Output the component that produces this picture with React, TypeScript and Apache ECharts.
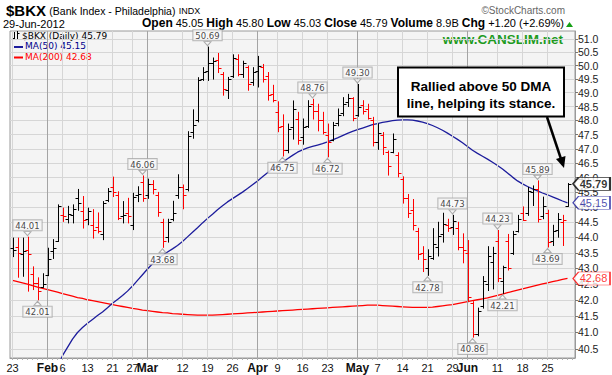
import React, { useEffect, useRef } from 'react';
import * as echarts from 'echarts';

const dates = [
  '01-23','01-24','01-25','01-26','01-27','01-30','01-31',
  '02-01','02-02','02-03','02-06','02-07','02-08','02-09','02-10','02-13','02-14','02-15','02-16','02-17','02-21','02-22','02-23','02-24','02-27','02-28','02-29',
  '03-01','03-02','03-05','03-06','03-07','03-08','03-09','03-12','03-13','03-14','03-15','03-16','03-19','03-20','03-21','03-22','03-23','03-26','03-27','03-28','03-29','03-30',
  '04-02','04-03','04-04','04-05','04-09','04-10','04-11','04-12','04-13','04-16','04-17','04-18','04-19','04-20','04-23','04-24','04-25','04-26','04-27','04-30',
  '05-01','05-02','05-03','05-04','05-07','05-08','05-09','05-10','05-11','05-14','05-15','05-16','05-17','05-18','05-21','05-22','05-23','05-24','05-25','05-29','05-30','05-31',
  '06-01','06-04','06-05','06-06','06-07','06-08','06-11','06-12','06-13','06-14','06-15','06-18','06-19','06-20','06-21','06-22','06-25','06-26','06-27','06-28','06-29'
];

const opens = [
  43.65,43.70,43.45,43.60,42.83,42.55,42.40,42.80,43.55,43.90,
  44.75,44.60,44.75,45.30,44.86,44.60,44.42,44.35,44.10,45.25,
  45.70,45.40,44.70,44.80,44.40,45.40,45.85,45.40,45.80,45.40,
  44.50,44.00,44.60,45.40,45.70,45.60,47.60,48.00,49.50,49.80,
  50.10,50.20,49.70,49.09,49.60,50.25,49.70,49.95,49.40,49.80,
  49.95,49.60,48.95,48.30,47.80,46.95,47.75,48.05,47.40,47.80,
  48.60,48.35,48.00,47.50,47.30,47.90,48.25,48.65,48.80,48.20,
  48.55,48.40,48.00,47.25,47.50,46.90,46.90,46.80,45.95,45.30,
  44.90,44.20,43.50,43.00,43.35,43.70,44.10,44.40,44.35,44.30,
  43.70,43.50,41.90,40.95,41.80,42.50,43.20,43.90,42.60,43.90,
  43.50,44.20,44.80,44.80,45.50,45.60,44.70,44.80,43.90,44.25,
  44.50,45.05
];
const highs = [
  43.98,43.98,43.98,44.01,43.05,42.70,42.83,43.65,43.93,45.08,
  44.97,45.03,45.08,45.60,45.36,44.97,44.92,44.81,45.19,45.63,
  46.02,45.52,45.19,45.30,45.47,45.69,46.06,45.95,45.90,45.50,
  44.60,44.60,45.20,46.10,45.75,47.60,48.38,49.55,49.92,50.69,
  50.28,50.45,49.74,49.56,50.40,50.40,50.16,49.98,49.92,50.34,
  50.04,49.74,49.27,48.67,48.20,47.87,48.70,48.29,48.05,48.71,
  48.76,48.58,48.29,47.87,47.93,48.41,48.82,48.94,48.82,49.30,
  48.71,48.58,48.11,47.87,47.57,46.92,47.52,46.86,46.03,45.43,
  45.26,44.30,43.70,43.60,44.29,44.50,44.80,44.60,44.73,44.50,
  44.12,43.90,41.95,41.75,42.74,43.70,43.68,44.23,43.07,44.10,
  44.20,44.73,45.01,45.67,45.72,45.89,45.34,44.90,44.40,44.79,
  44.73,45.80
];
const lows = [
  43.38,42.72,42.75,42.28,42.33,42.01,42.40,42.77,43.32,43.87,
  44.53,44.48,44.48,44.90,44.31,44.42,43.98,44.15,43.93,45.19,
  45.36,44.59,44.48,44.48,44.26,45.19,45.20,45.30,45.45,44.70,
  43.68,43.85,44.55,45.30,44.95,45.55,47.37,47.95,49.45,49.45,
  49.50,49.74,48.91,48.79,49.56,49.62,49.56,49.09,49.27,49.21,
  49.39,48.73,48.67,47.60,46.75,46.86,47.34,47.16,47.16,47.75,
  48.05,47.63,47.52,46.72,47.28,47.81,48.17,48.50,47.99,48.15,
  48.23,48.05,47.10,46.98,46.80,46.09,46.86,46.03,45.14,44.66,
  44.25,43.29,42.90,42.78,43.29,43.40,43.85,44.20,44.10,43.60,
  43.18,41.95,40.86,40.90,41.75,42.30,42.35,42.58,42.21,42.95,
  43.45,44.18,44.56,44.73,45.06,44.51,44.62,43.69,43.74,44.01,
  43.74,45.03
];
const closes = [
  43.60,43.49,43.55,43.45,42.55,42.30,42.52,43.30,43.65,45.05,
  44.70,44.78,44.95,45.15,44.59,44.86,44.26,44.20,45.15,45.55,
  45.50,44.65,44.75,44.70,45.35,45.45,45.30,45.80,45.60,44.85,
  43.90,44.50,44.80,45.70,45.40,47.45,47.85,49.45,49.75,50.10,
  50.15,49.92,49.15,49.50,50.28,49.68,50.10,49.30,49.75,50.00,
  49.50,48.90,48.75,47.75,46.95,47.70,48.40,47.30,47.75,48.53,
  48.35,48.00,47.60,47.25,47.85,48.20,48.60,48.80,48.10,48.50,
  48.35,48.10,47.25,47.55,47.05,46.40,47.35,46.15,45.30,44.80,
  44.40,43.45,43.30,43.40,43.79,44.05,44.45,44.30,44.55,43.70,
  43.60,42.10,40.95,41.65,42.60,43.40,43.50,42.70,43.05,43.00,
  44.10,44.60,44.58,45.55,45.60,44.60,45.05,43.85,44.20,44.60,
  44.59,45.79
];
const ma50 = [
  38.60,38.70,38.80,38.90,39.00,39.15,39.30,39.50,39.70,39.95,
  40.30,40.55,40.80,41.00,41.15,41.28,41.40,41.52,41.63,41.76,
  41.90,42.02,42.14,42.28,42.44,42.62,42.80,42.98,43.15,43.29,
  43.42,43.53,43.63,43.74,43.87,44.02,44.17,44.32,44.48,44.63,
  44.77,44.92,45.05,45.18,45.29,45.40,45.51,45.63,45.76,45.89,
  46.03,46.17,46.30,46.42,46.53,46.65,46.77,46.88,46.96,47.03,
  47.08,47.13,47.18,47.24,47.31,47.38,47.46,47.54,47.61,47.67,
  47.73,47.79,47.85,47.89,47.93,47.96,47.99,48.01,48.02,48.02,
  48.01,47.98,47.94,47.89,47.82,47.74,47.65,47.55,47.44,47.33,
  47.21,47.08,46.95,46.84,46.74,46.64,46.53,46.42,46.30,46.16,
  46.02,45.89,45.79,45.70,45.62,45.55,45.48,45.42,45.35,45.28,
  45.21,45.15
];
const ma200 = [
  42.62,42.58,42.54,42.50,42.45,42.41,42.37,42.33,42.29,42.25,
  42.20,42.16,42.12,42.08,42.05,42.01,41.98,41.95,41.92,41.89,
  41.86,41.83,41.80,41.77,41.74,41.72,41.69,41.67,41.65,41.63,
  41.61,41.60,41.58,41.57,41.56,41.55,41.54,41.53,41.53,41.53,
  41.53,41.54,41.55,41.56,41.57,41.58,41.59,41.60,41.61,41.62,
  41.63,41.64,41.65,41.66,41.67,41.68,41.69,41.70,41.71,41.72,
  41.73,41.74,41.75,41.76,41.77,41.78,41.79,41.80,41.81,41.82,
  41.83,41.84,41.84,41.84,41.83,41.82,41.81,41.80,41.79,41.78,
  41.77,41.77,41.77,41.77,41.78,41.80,41.82,41.84,41.86,41.89,
  41.92,41.95,41.98,42.01,42.04,42.07,42.11,42.15,42.19,42.23,
  42.27,42.31,42.35,42.39,42.43,42.47,42.51,42.54,42.58,42.61,
  42.65,42.68
];

const tickLabels: Record<string, string> = {
  '01-23': '23', '02-01': 'Feb', '02-06': '6', '02-13': '13', '02-21': '21', '02-27': '27',
  '03-01': 'Mar', '03-12': '12', '03-19': '19', '03-26': '26', '04-02': 'Apr', '04-09': '9',
  '04-16': '16', '04-23': '23', '05-01': 'May', '05-07': '7', '05-14': '14', '05-21': '21',
  '05-29': '29', '06-01': 'Jun', '06-11': '11', '06-18': '18', '06-25': '25'
};
const monthTicks = ['02-01', '03-01', '04-02', '05-01', '06-01'];

const priceTicks = [
  40.5, 41.0, 41.5, 42.0, 42.5, 43.0, 43.5, 44.0, 44.5, 45.0, 45.5,
  46.0, 46.5, 47.0, 47.5, 48.0, 48.5, 49.0, 49.5, 50.0, 50.5, 51.0
];

// labelled swing highs (H) and lows (L)
const swingPoints: [number, 'H' | 'L'][] = [
  [3, 'H'], [5, 'L'], [26, 'H'], [30, 'L'], [39, 'H'], [54, 'L'], [60, 'H'], [63, 'L'],
  [69, 'H'], [83, 'L'], [88, 'H'], [92, 'L'], [97, 'H'], [98, 'L'], [105, 'H'], [107, 'L']
];

const volumeText = '8.9B';
const lastDate = '29-Jun-2012';

const RED = '#ff0000';
const BLACK = '#000000';
const BLUE = '#1c1c9c';
const SANS = 'Liberation Sans, Arial, sans-serif';
const VERD = 'DejaVu Sans, Verdana, sans-serif';

export default function App() {
  const ref = useRef<HTMLDivElement>(null);

  useEffect(() => {
    if (!ref.current) return;
    const chart = echarts.init(ref.current, undefined, { renderer: 'svg' });
    const n = closes.length;
    const last = n - 1;
    const chg = closes[last] - closes[last - 1];
    const pct = (chg / closes[last - 1]) * 100;

    const ohlcData = dates.map((d, i) => [
      i, opens[i], highs[i], lows[i], closes[i], i > 0 && closes[i] < closes[i - 1] ? 1 : 0
    ]);

    const swingData = swingPoints.map(([i, k]) => ({
      value: [i, k === 'H' ? highs[i] : lows[i]],
      symbolRotate: k === 'H' ? 180 : 0,
      symbolOffset: [0, k === 'H' ? -3.5 : 3.5],
      label: { position: k === 'H' ? 'top' : 'bottom', distance: 1 }
    }));

    const option: any = {
      animation: false,
      grid: {
        left: 10, right: 37, top: 31, bottom: 17,
        show: true, backgroundColor: '#f4f4f4', borderColor: '#9a9a9a', borderWidth: 1
      },
      xAxis: {
        type: 'category',
        data: [...dates, ''],
        boundaryGap: true,
        axisLine: { show: true, lineStyle: { color: '#9a9a9a' } },
        axisTick: { show: true, interval: 0, alignWithLabel: true, length: 2, lineStyle: { color: '#b0b0b0' } },
        splitLine: { show: false },
        axisLabel: {
          interval: (idx: number, value: string) => !!tickLabels[value],
          formatter: (value: string) => {
            const t = tickLabels[value];
            if (!t) return '';
            return monthTicks.includes(value) ? `{m|${t}}` : t;
          },
          fontFamily: SANS, fontSize: 11, color: '#111', margin: 4,
          rich: { m: { fontFamily: SANS, fontWeight: 'bold', fontSize: 12, color: '#111' } }
        }
      },
      yAxis: {
        type: 'log',
        logBase: 10,
        position: 'right',
        min: 40.23, max: 51.3,
        axisLine: { show: true, lineStyle: { color: '#9a9a9a' } },
        axisTick: { show: true, length: 3, customValues: priceTicks, lineStyle: { color: '#777' } },
        splitLine: { show: true, lineStyle: { color: '#d6d6d6', width: 1 } },
        axisLabel: {
          customValues: priceTicks, margin: 3,
          formatter: (v: number) => Number(v).toFixed(1),
          fontFamily: SANS, fontSize: 10.5, color: '#222'
        }
      },
      series: [
        {
          name: 'MA200', type: 'line', data: ma200, showSymbol: false, z: 2,
          lineStyle: { color: RED, width: 1.3 }, itemStyle: { color: RED },
          markLine: {
            silent: true, symbol: ['none', 'none'], label: { show: false }, animation: false,
            data: Object.keys(tickLabels).map((d) => ({
              xAxis: d,
              lineStyle: { color: monthTicks.includes(d) ? '#a4a4a4' : '#d6d6d6', width: 1, type: 'solid' }
            }))
          }
        },
        {
          name: 'MA50', type: 'line', data: ma50, showSymbol: false, z: 3,
          lineStyle: { color: BLUE, width: 1.3 }, itemStyle: { color: BLUE }
        },
        {
          name: 'BKX', type: 'custom', z: 5, clip: true,
          encode: { x: 0, y: [1, 2, 3, 4] },
          data: ohlcData,
          renderItem: (params: any, api: any) => {
            const i = api.value(0);
            const pH = api.coord([i, api.value(2)]);
            const pL = api.coord([i, api.value(3)]);
            const pO = api.coord([i, api.value(1)]);
            const pC = api.coord([i, api.value(4)]);
            const color = api.value(5) ? RED : BLACK;
            const x = Math.round(pH[0]) + 0.5;
            const st = { stroke: color, lineWidth: 1 };
            return {
              type: 'group',
              children: [
                { type: 'line', shape: { x1: x, y1: pH[1] - 0.5, x2: x, y2: pL[1] + 0.5 }, style: st },
                { type: 'line', shape: { x1: x - 3, y1: Math.round(pO[1]) + 0.5, x2: x, y2: Math.round(pO[1]) + 0.5 }, style: st },
                { type: 'line', shape: { x1: x, y1: Math.round(pC[1]) + 0.5, x2: x + 3, y2: Math.round(pC[1]) + 0.5 }, style: st }
              ]
            };
          }
        },
        {
          name: 'swings', type: 'scatter', z: 8, clip: false, silent: true,
          data: swingData,
          symbol: 'triangle', symbolSize: [7, 4],
          itemStyle: { color: '#fafafa', borderColor: '#999', borderWidth: 1 },
          label: {
            show: true,
            formatter: (p: any) => p.value[1].toFixed(2),
            fontFamily: VERD, fontSize: 8.5, color: '#111',
            backgroundColor: '#fafafa', borderColor: '#a8a8a8', borderWidth: 1,
            padding: [1, 2, 0, 2]
          }
        },
        {
          name: 'tags', type: 'scatter', z: 10, clip: false, silent: true,
          symbol: 'path://M0,6L6,0L40,0L40,12L6,12Z', symbolSize: [37, 13], symbolOffset: [24, 0],
          symbolKeepAspect: false,
          itemStyle: { color: '#ffffff', borderWidth: 1 },
          label: {
            show: true, position: 'inside', offset: [2, 0],
            formatter: (p: any) => p.value[1].toFixed(2),
            fontFamily: SANS, fontSize: 11
          },
          data: [
            { value: [last, ma200[last]], itemStyle: { borderColor: RED }, label: { color: RED } },
            { value: [last, ma50[last]], itemStyle: { borderColor: BLUE }, label: { color: BLUE } },
            { value: [last, closes[last]], itemStyle: { borderColor: BLACK, borderWidth: 1.3 }, label: { color: BLACK, fontWeight: 'bold' } }
          ]
        }
      ],
      graphic: [
        {
          type: 'text', left: 6, top: 3,
          style: {
            text: '{t|$BKX} {s|(Bank Index - Philadelphia)} {x|INDX}',
            rich: {
              t: { fontFamily: SANS, fontWeight: 'bold', fontSize: 15, fill: '#000' },
              s: { fontFamily: SANS, fontSize: 10.5, fill: '#000' },
              x: { fontFamily: SANS, fontSize: 9, fill: '#000' }
            }
          }
        },
        {
          type: 'text', right: 47, top: 5,
          style: { text: '\u00a9StockCharts.com', fontFamily: SANS, fontSize: 10, fill: '#666' }
        },
        {
          type: 'text', left: 3, top: 18,
          style: { text: lastDate, fontFamily: SANS, fontSize: 11, fill: '#000' }
        },
        {
          type: 'text', right: 48, top: 17,
          style: {
            text: `{b|Open} ${opens[last].toFixed(2)} {b|High} ${highs[last].toFixed(2)} {b|Low} ${lows[last].toFixed(2)} {b|Close} ${closes[last].toFixed(2)} {b|Volume} ${volumeText} {b|Chg} +${chg.toFixed(2)} (+${pct.toFixed(2)}%)`,
            fontFamily: SANS, fontSize: 11, fill: '#000',
            rich: { b: { fontFamily: SANS, fontWeight: 'bold', fontSize: 12, fill: '#000' } }
          }
        },
        { type: 'polygon', shape: { points: [[566, 27], [573, 27], [569.5, 22]] }, style: { fill: '#16a016' } },
        // legend
        { type: 'line', shape: { x1: 14.5, y1: 32, x2: 14.5, y2: 40 }, style: { stroke: '#000', lineWidth: 1 } },
        { type: 'line', shape: { x1: 12.5, y1: 38.5, x2: 14.5, y2: 38.5 }, style: { stroke: '#000', lineWidth: 1 } },
        { type: 'line', shape: { x1: 17.5, y1: 31, x2: 17.5, y2: 39 }, style: { stroke: '#000', lineWidth: 1 } },
        { type: 'line', shape: { x1: 17.5, y1: 33.5, x2: 19.5, y2: 33.5 }, style: { stroke: '#000', lineWidth: 1 } },
        {
          type: 'text', left: 22, top: 31,
          style: { text: `$BKX (Daily) ${closes[last].toFixed(2)}`, fontFamily: VERD, fontSize: 9, fill: '#000' }
        },
        { type: 'line', shape: { x1: 14, y1: 47, x2: 23, y2: 47 }, style: { stroke: BLUE, lineWidth: 2 } },
        {
          type: 'text', left: 25, top: 41.5,
          style: { text: `MA(50) ${ma50[last].toFixed(2)}`, fontFamily: VERD, fontSize: 9, fill: '#00008b' }
        },
        { type: 'line', shape: { x1: 14, y1: 57.5, x2: 23, y2: 57.5 }, style: { stroke: RED, lineWidth: 2 } },
        {
          type: 'text', left: 25, top: 52,
          style: { text: `MA(200) ${ma200[last].toFixed(2)}`, fontFamily: VERD, fontSize: 9, fill: RED }
        },
        {
          type: 'text', right: 49, top: 32,
          style: { text: 'www.CANSLIM.net', fontFamily: SANS, fontWeight: 'bold', fontSize: 13.5, fill: '#1f9b1f' }
        },
        // annotation
        {
          type: 'rect', shape: { x: 398, y: 67.5, width: 166, height: 49 },
          style: { fill: '#ffffff', stroke: '#000', lineWidth: 2 }, z: 20
        },
        {
          type: 'text', x: 481, y: 86, z: 21,
          style: {
            text: 'Rallied above 50 DMA', fontFamily: SANS, fontWeight: 'bold', fontSize: 13.5, fill: '#000',
            textAlign: 'center', textVerticalAlign: 'middle', align: 'center', verticalAlign: 'middle'
          }
        },
        {
          type: 'text', x: 481, y: 103, z: 21,
          style: {
            text: 'line, helping its stance.', fontFamily: SANS, fontWeight: 'bold', fontSize: 13.5, fill: '#000',
            textAlign: 'center', textVerticalAlign: 'middle', align: 'center', verticalAlign: 'middle'
          }
        },
        { type: 'line', z: 20, shape: { x1: 547, y1: 117, x2: 561, y2: 159 }, style: { stroke: '#000', lineWidth: 2.5 } },
        { type: 'polygon', z: 20, shape: { points: [[564, 168], [565.5, 156], [556, 159]] }, style: { fill: '#000' } }
      ]
    };

    chart.setOption(option);
    return () => chart.dispose();
  }, []);

  return (
    <div
      ref={ref}
      style={{ position: 'absolute', left: 0, top: 0, width: 612, height: 375, background: '#ffffff' }}
    />
  );
}
